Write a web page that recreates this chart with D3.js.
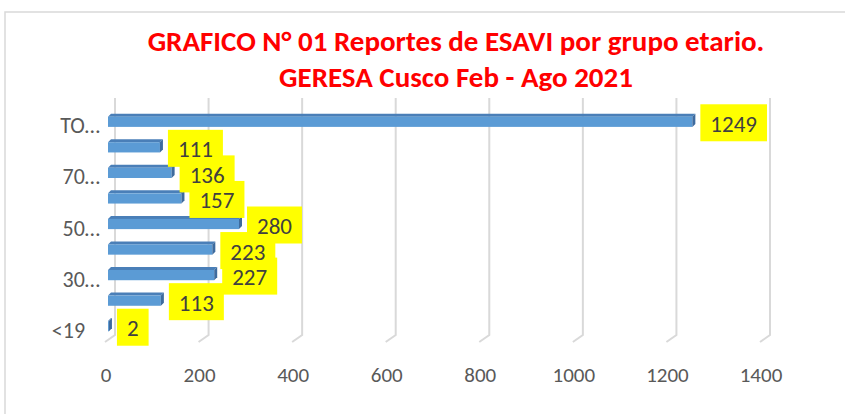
<!DOCTYPE html>
<html>
<head>
<meta charset="utf-8">
<script src="https://cdn.jsdelivr.net/npm/d3@7"></script>
<style>
  body { margin: 0; background: #fff; }
  svg text { font-family: Carlito, Calibri, Lato, sans-serif; }
</style>
</head>
<body>
<div id="chart"></div>
<script>
// data (top to bottom in the chart)
const categories = ['TOTAL', '80 a más', '70-79', '60-69', '50-59', '40-49', '30-39', '20-29', '<19']
const tickLabels = ['TO…', '', '70…', '', '50…', '', '30…', '', '<19\u00a0\u00a0\u00a0']
const values = [1249, 111, 136, 157, 280, 223, 227, 113, 2]
const xTicks = [0, 200, 400, 600, 800, 1000, 1200, 1400]
const titleLines = ['GRAFICO N° 01 Reportes de ESAVI por grupo etario.', 'GERESA Cusco Feb - Ago 2021']

const width = 845
const height = 414
const depth = 7      // shift between the back wall and the bar fronts
const floorBottom = 342

const svg = d3.select('#chart')
              .append('svg')
                .attr('width', width)
                .attr('height', height)

// chart frame (only top and left edge visible)
svg.append('path')
  .attr('d', 'M5,' + height + ' L5,12 L' + width + ',12')
  .attr('fill', 'none')
  .attr('stroke', '#d9d9d9')
  .attr('stroke-width', 1.5)

// title
svg.append('g').selectAll('text')
  .data(titleLines)
  .join('text')
    .attr('x', 456)
    .attr('y', (d, i) => 51 + i * 36)
    .attr('text-anchor', 'middle')
    .attr('fill', '#ff0000')
    .attr('font-weight', 'bold')
    .attr('font-size', 29)
    .text(d => d)

// x scale = back wall position
const x = d3.scaleLinear()
  .domain([0, 1400])
  .range([115, 770])

const y = d3.scaleBand()
  .domain(categories)
  .range([109, 339])
  .paddingInner(0.6)
  .paddingOuter(0.3)

// gridlines with the little floor diagonal
svg.append('g').selectAll('path')
  .data(xTicks)
  .join('path')
    .attr('d', d => 'M' + x(d) + ',98 L' + x(d) + ',335 L' + (x(d) - 10) + ',' + floorBottom)
    .attr('fill', 'none')
    .attr('stroke', '#d9d9d9')
    .attr('stroke-width', 2)

// x tick labels on the floor front
svg.append('g').selectAll('text')
  .data(xTicks)
  .join('text')
    .attr('x', d => x(d) - 9)
    .attr('y', 382)
    .attr('text-anchor', 'middle')
    .attr('fill', '#595959')
    .attr('font-size', 21)
    .text(d => d)

// category labels
svg.append('g').selectAll('text')
  .data(categories)
  .join('text')
    .attr('x', 100)
    .attr('y', d => y(d) + y.bandwidth() / 2 + 11.5)
    .attr('text-anchor', 'end')
    .attr('fill', '#595959')
    .attr('font-size', 22)
    .text((d, i) => tickLabels[i])

// 3D bars: front face, top face, end face
const bw = y.bandwidth()
const t = 3
const rows = categories.map((c, i) => ({ cat: c, value: values[i] }))
const bars = svg.append('g').selectAll('g')
  .data(rows)
  .join('g')

const x0 = x(0) - depth
const xe = d => x(d.value) - depth

bars.append('path')
  .attr('d', d => 'M' + x0 + ',' + y(d.cat) + ' L' + (x0 + t) + ',' + (y(d.cat) - t) +
                  ' L' + (xe(d) + t) + ',' + (y(d.cat) - t) + ' L' + xe(d) + ',' + y(d.cat) + 'Z')
  .attr('fill', '#4a7fb8')

bars.append('rect')
  .attr('x', x0)
  .attr('y', d => y(d.cat))
  .attr('width', d => xe(d) - x0)
  .attr('height', bw)
  .attr('fill', '#5b9bd5')

bars.append('path')
  .attr('d', d => 'M' + xe(d) + ',' + y(d.cat) + ' L' + (xe(d) + t) + ',' + (y(d.cat) - t) +
                  ' L' + (xe(d) + t) + ',' + (y(d.cat) + bw - t) + ' L' + xe(d) + ',' + (y(d.cat) + bw) + 'Z')
  .attr('fill', '#3e6b9e')

// data labels: all yellow boxes first, then all texts on top
const boxLayer = svg.append('g')
const textLayer = svg.append('g')
const pos = d => 'translate(' + (xe(d) + 8) + ',' + (y(d.cat) + bw / 2 + 1) + ')'

const labelTexts = textLayer.selectAll('text')
  .data(rows)
  .join('text')
    .attr('transform', pos)
    .attr('x', 10)
    .attr('y', 9)
    .attr('fill', '#404040')
    .attr('font-size', 23)
    .text(d => d.value)

boxLayer.selectAll('rect')
  .data(rows)
  .join('rect')
    .attr('transform', pos)
    .attr('y', -18.5)
    .attr('height', 37)
    .attr('width', (d, i) => labelTexts.nodes()[i].getComputedTextLength() + 20)
    .attr('fill', '#ffff00')
</script>
</body>
</html>
